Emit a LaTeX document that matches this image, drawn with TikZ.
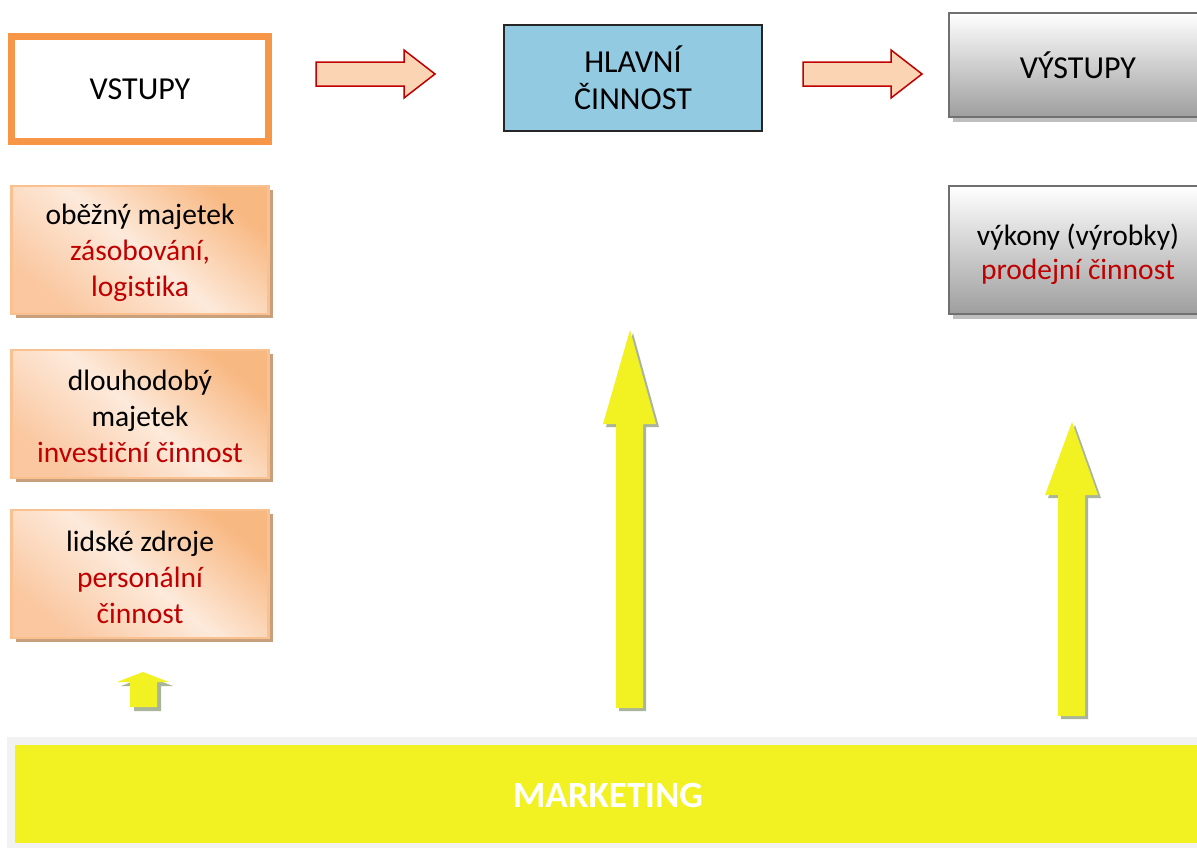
\documentclass[tikz,border=0pt]{standalone}
\usepackage{fontspec}
\setmainfont{Carlito}[Ligatures=NoCommon]
\usetikzlibrary{shadows}
\definecolor{vorange}{HTML}{F79646}
\definecolor{peach}{HTML}{FBD4B4}
\definecolor{arrred}{HTML}{C00000}
\definecolor{hblue}{RGB}{146,202,226}
\definecolor{boxdark}{HTML}{F8B882}
\definecolor{boxlight}{HTML}{FDEADB}
\definecolor{boxmid}{HTML}{FAC7A0}
\definecolor{boxborder}{HTML}{FAC090}
\definecolor{boxshadow}{RGB}{201,160,124}
\definecolor{yel}{RGB}{242,242,34}
\definecolor{yelshadow}{RGB}{169,181,155}
\definecolor{bandgray}{HTML}{F2F2F2}
\definecolor{txtred}{HTML}{C00000}
\definecolor{gborder}{RGB}{112,112,112}
\definecolor{gshadow}{RGB}{190,190,190}
\tikzset{
  txt/.style={font=\fontsize{29.5}{36}\selectfont, align=center, inner sep=0pt},
  toptxt/.style={font=\fontsize{32}{37}\selectfont, align=center, inner sep=0pt},
  leftbox/.style={draw=boxborder, line width=2.5pt, minimum width=257pt, minimum height=128pt,
    shading=axis, top color=boxdark, bottom color=boxmid, middle color=boxlight, shading angle=-40,
    drop shadow={shadow xshift=4pt, shadow yshift=-4pt, fill=boxshadow, opacity=1}, inner sep=0pt},
  graybox/.style={draw=gborder, line width=2.5pt, minimum width=258pt, minimum height=104pt,
    top color=white, bottom color=black!38, inner sep=0pt,
    drop shadow={shadow xshift=4pt, shadow yshift=-5pt, fill=gshadow, opacity=1}},
  peacharrow/.style={fill=peach, draw=arrred, line width=1.5pt, line join=miter},
  yarrow/.style={fill=yel},
  yshadow/.style={fill=yelshadow},
}
\begin{document}
\begin{tikzpicture}[x=1pt,y=-1pt]
\useasboundingbox (0,0) rectangle (1197,847);
\clip (0,0) rectangle (1197,847);
\fill[white] (0,0) rectangle (1197,847);

% VSTUPY
\node[draw=vorange, line width=6.5pt, fill=white, minimum width=257pt, minimum height=105pt, toptxt] (vstupy) at (140,89) {VSTUPY};

% HLAVNI CINNOST
\node[draw=black!85, line width=2pt, fill=hblue, minimum width=258pt, minimum height=106pt, toptxt] (hlavni) at (633,78) {HLAVNÍ\\ČINNOST};

% VYSTUPY
\node[graybox, toptxt] (vystupy) at (1078,65) {VÝSTUPY};

% peach arrows
\draw[peacharrow] (316,62) -- (404,62) -- (404,50) -- (435,74) -- (404,98) -- (404,86) -- (316,86) -- cycle;
\draw[peacharrow] (803,62) -- (891,62) -- (891,50) -- (922,74) -- (891,98) -- (891,86) -- (803,86) -- cycle;

% left boxes
\node[leftbox] (b1) at (140,250) {};
\node[txt] (b1t) at ([yshift=-3pt]b1.center) {oběžný majetek\\\textcolor{txtred}{zásobování,}\\\textcolor{txtred}{logistika}};
\node[leftbox] (b2) at (140,414) {};
\node[txt] (b2t) at ([yshift=-2pt]b2.center) {dlouhodobý\\majetek\\\textcolor{txtred}{investiční činnost}};
\node[leftbox] (b3) at (140,574) {};
\node[txt] (b3t) at ([yshift=-3pt]b3.center) {lidské zdroje\\\textcolor{txtred}{personální}\\\textcolor{txtred}{činnost}};

% right box
\node[graybox, minimum height=128pt] (vykony) at (1078,250) {};
\node[txt] (vykonyt) at ([yshift=-4pt]vykony.center) {výkony (výrobky)\\[-2pt]\textcolor{txtred}{prodejní činnost}};

% marketing band
\fill[bandgray] (7,737) rectangle (1200,850);
\node[fill=yel, minimum width=1190pt, minimum height=98pt, anchor=north west, inner sep=0pt] (mkt) at (15,745) {};
\node[font=\fontsize{37}{40}\selectfont\bfseries, text=white, inner sep=0pt] (mkttext) at (608,795) {MARKETING};

% yellow arrows (shadow then arrow)
\foreach \dx/\dy/\s in {4/4/yshadow, 0/0/yarrow}{
  \fill[\s, shift={(\dx,\dy)}] (143,672) -- (169,682) -- (157,682) -- (157,707) -- (130,707) -- (130,682) -- (117,682) -- cycle;
}
\foreach \dx/\dy/\s in {3/3/yshadow, 0/0/yarrow}{
  \fill[\s, shift={(\dx,\dy)}] (630,330) -- (656,424) -- (643,424) -- (643,708) -- (616,708) -- (616,424) -- (603,424) -- cycle;
  \fill[\s, shift={(\dx,\dy)}] (1072,422) -- (1098,495) -- (1085,495) -- (1085,716) -- (1058,716) -- (1058,495) -- (1045,495) -- cycle;
}
\end{tikzpicture}
\end{document}
